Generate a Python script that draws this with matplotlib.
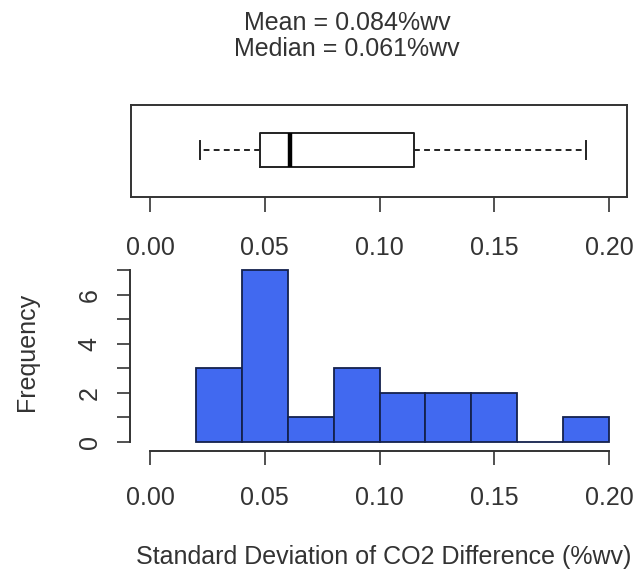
import matplotlib
matplotlib.use("Agg")
import matplotlib.pyplot as plt

plt.rcParams['font.family'] = ['Liberation Sans', 'DejaVu Sans']

# ---- data ----
title_lines = ["Mean = 0.084%wv", "Median = 0.061%wv"]
box_stats = {"whislo": 0.0219, "q1": 0.0478, "med": 0.0612, "q3": 0.1152, "whishi": 0.190}
bin_left = [0.02, 0.04, 0.06, 0.08, 0.10, 0.12, 0.14, 0.16, 0.18]
counts = [3, 7, 1, 3, 2, 2, 2, 0, 1]
bin_width = 0.02
x_ticks = [0.00, 0.05, 0.10, 0.15, 0.20]
x_ticklabels = ["0.00", "0.05", "0.10", "0.15", "0.20"]
y_major = [0, 2, 4, 6]
y_minor = [1, 3, 5, 7]
xlabel = "Standard Deviation of CO2 Difference (%wv)"
ylabel = "Frequency"

W, H = 634, 571
fig = plt.figure(figsize=(W / 100, H / 100), dpi=100)
txt = '#333333'
lc = '#333333'
fs = 18

def fx(px):
    return px / W

def fy(py):
    return 1 - py / H

# pixel scale shared by both panels: x=0 at 150px, x=0.2 at 609px
sx = (609 - 150) / 0.2

# ---- top: boxplot ----
tl, tr = 131, 627
axb = fig.add_axes([fx(tl), fy(197), fx(tr) - fx(tl), fy(105) - fy(197)])
axb.set_xlim((tl - 150) / sx, (tr - 150) / sx)
axb.set_ylim(0, 2)
st = dict(box_stats)
axb.bxp([st], positions=[1.02], widths=0.74, vert=False, showfliers=False,
        showcaps=True, capwidths=0.40,
        boxprops=dict(color='#222222', linewidth=1.4),
        whiskerprops=dict(color='#222222', linewidth=1.4, linestyle=(0, (3, 2.2))),
        capprops=dict(color='#222222', linewidth=1.4),
        medianprops=dict(color='#000000', linewidth=3.2))
axb.set_yticks([])
axb.set_xticks(x_ticks)
axb.set_xticklabels(x_ticklabels, fontsize=fs, color=txt)
axb.tick_params(axis='x', direction='out', length=11, width=1.2, pad=17, color=lc)
for s in axb.spines.values():
    s.set_linewidth(1.4)
    s.set_color(lc)

# ---- bottom: histogram ----
x0, x1 = -0.012, 0.207
y0, y1 = -0.5, 7.1
sy = (442 - 270) / 7
left_px = 150 + x0 * sx
right_px = 150 + x1 * sx
top_px = 270 - (y1 - 7) * sy
bot_px = 442 - y0 * sy
axh = fig.add_axes([fx(left_px), fy(bot_px), fx(right_px) - fx(left_px), fy(top_px) - fy(bot_px)])
axh.set_xlim(x0, x1)
axh.set_ylim(y0, y1)
axh.bar(bin_left, counts, width=bin_width, align='edge', color='#4169F0',
        edgecolor='#14214d', linewidth=1.3, zorder=2)
for k in ['top', 'right']:
    axh.spines[k].set_visible(False)
axh.spines['bottom'].set_position(('data', -9 / sy))
axh.spines['bottom'].set_bounds(0, 0.2)
axh.spines['left'].set_position(('data', -20 / sx))
axh.spines['left'].set_bounds(0, 7)
for k in ['bottom', 'left']:
    axh.spines[k].set_linewidth(1.4)
    axh.spines[k].set_color(lc)
axh.set_xticks(x_ticks)
axh.set_xticklabels(x_ticklabels, fontsize=fs, color=txt)
axh.tick_params(axis='x', direction='out', length=10, width=1.2, pad=15, color=lc)
axh.set_yticks(y_major)
axh.set_yticklabels([str(v) for v in y_major], fontsize=fs, color=txt,
                    rotation=90, va='center')
axh.set_yticks(y_minor, minor=True)
axh.tick_params(axis='y', which='both', direction='out', length=9.5, width=1.2,
                pad=11, color=lc)

# ---- texts ----
fig.text(fx(347), fy(23), title_lines[0], ha='center', va='center', fontsize=fs, color=txt)
fig.text(fx(347), fy(49), title_lines[1], ha='center', va='center', fontsize=fs, color=txt)
fig.text(fx(384), fy(557), xlabel, ha='center', va='center', fontsize=fs, color=txt)
fig.text(fx(27), fy(352), ylabel, ha='center', va='center', rotation=90, fontsize=fs, color=txt)

fig.savefig('out.png', dpi=100)
